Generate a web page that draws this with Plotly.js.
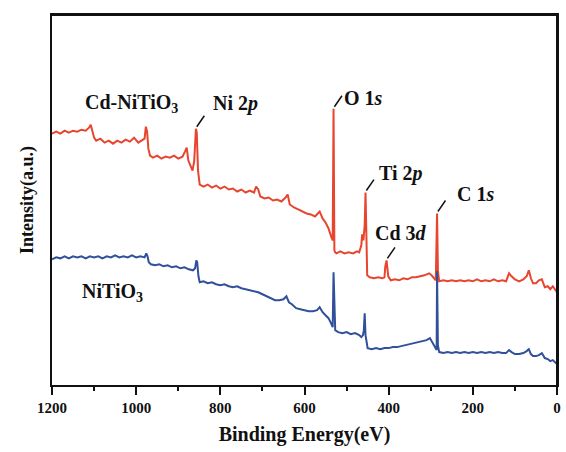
<!DOCTYPE html>
<html><head><meta charset="utf-8">
<script src="https://cdn.plot.ly/plotly-3.0.1.min.js"></script>
<style>body{margin:0;background:#fff}#chart{width:566px;height:452px}</style>
</head><body><div id="chart"></div>
<script>
// Binding energy (eV) and intensity (a.u.)
const cdE = [1200,1190,1180,1170,1160,1150,1140,1130,1120,1112,1108,1104,1100,1095,1085,1075,1065,1055,1045,1035,1025,1015,1005,995,985,980,977,974,971,967,960,950,940,930,920,910,900,890,884,880,876,870,866,862,858,856,853,849,840,830,820,810,800,790,780,770,760,750,740,730,720,715,710,705,695,685,675,665,655,645,640,635,625,615,605,595,585,575,564,557,550,543,536,533,531,529,527,524,515,505,495,485,475,470,465,463,460,457,455,453,451,445,435,425,415,410,408,405,403,401,395,385,375,365,355,345,335,325,315,304,298,292,288,285,283,280,270,260,250,240,230,220,210,200,190,180,170,160,150,140,130,121,114,108,100,90,80,72,67,62,57,50,43,36,29,22,16,10,5,0];
const cdI = [252,254,252,255,253,255,254,256,255,258,261,255,248,245,247,243,245,242,245,243,246,244,248,243,246,247,259,254,237,230,228,230,227,229,228,230,227,229,234,238,225,218,215,225,257,253,215,201,199,201,198,200,197,199,196,197,194,196,193,195,193,199,196,189,187,188,185,186,184,188,191,181,178,176,174,172,171,169,174,167,163,157,148,145,277,135,133,132,134,132,133,132,134,133,140,151,145,160,193,145,110,108,107,108,107,108,119,125,117,109,105,106,105,107,106,108,108,109,110,112,110,107,105,172,115,104,105,104,105,104,105,104,105,104,106,104,105,104,106,104,105,104,112,109,106,104,106,109,115,107,102,102,105,106,98,99,96,99,96,93];
const niE = [1200,1190,1180,1170,1160,1150,1140,1130,1120,1110,1100,1090,1080,1070,1060,1050,1040,1030,1020,1010,1000,990,980,976,973,970,965,955,945,935,925,915,905,895,885,875,865,860,857,855,852,849,840,830,820,810,800,790,780,770,760,750,740,730,720,710,700,690,680,670,660,650,643,637,630,620,610,600,590,580,570,564,557,550,543,536,533,531,529,527,520,510,500,490,480,470,465,461,459,457,455,452,450,440,430,420,410,400,390,380,370,360,350,340,330,320,310,302,296,290,286,285,283,280,270,260,250,240,230,220,210,200,190,180,170,160,150,140,130,121,114,108,100,90,80,72,67,62,57,50,43,36,29,22,16,10,5,0];
const niI = [126,128,127,129,127,129,128,129,127,129,128,129,127,129,128,130,128,129,128,130,128,129,128,132,129,123,121,120,121,119,120,118,119,117,118,116,115,117,125,123,109,103,104,102,103,101,100,101,99,98,99,97,96,95,94,93,91,89,87,85,85,86,89,83,81,77,76,75,74,74,75,78,73,70,67,61,58,113,63,55,53,52,53,51,52,50,48,50,55,72,50,40,37,36,37,36,37,37,38,38,39,40,41,42,43,44,45,47,42,37,35,114,40,33,32,33,32,33,32,33,32,33,32,33,32,33,32,33,32,32,35,33,31,31,32,34,36,31,29,29,30,32,27,26,24,25,23,21];
const seriesNames = ["Cd-NiTiO<sub>3</sub>", "NiTiO<sub>3</sub>"];
const peakNames = ["Ni 2<i>p</i>", "O 1<i>s</i>", "Ti 2<i>p</i>", "Cd 3<i>d</i>", "C 1<i>s</i>"];
const peakE = [858, 531, 455, 405, 285];
const xTicks = [1200,1000,800,600,400,200,0];
const xRange = [1200, 0], yRange = [0, 371];

const RED = '#E8452F', BLUE = '#30509A';
const F = 'Liberation Serif, Times New Roman, serif';

const traces = [
  {x: cdE, y: cdI, mode: 'lines', line: {color: RED, width: 2}, name: seriesNames[0], hoverinfo: 'skip'},
  {x: niE, y: niI, mode: 'lines', line: {color: BLUE, width: 2}, name: seriesNames[1], hoverinfo: 'skip'},
  // top and right edges of the plot frame, along the axis ranges
  {x: [xRange[0], xRange[1], xRange[1]], y: [yRange[1], yRange[1], yRange[0]], mode: 'lines', line: {color: '#111', width: 2}, cliponaxis: false, hoverinfo: 'skip', showlegend: false}
];

const labelOff = [[-94, 25], [-72, 11], [-84, 19], [-35, 27], [-92, 20]];
const annotations = [], shapes = [];
peakE.forEach((e, i) => {
  const v = cdI[cdE.indexOf(e)];
  annotations.push({x: e + labelOff[i][0], y: v + labelOff[i][1], xref: 'x', yref: 'y', text: '<b>' + peakNames[i] + '</b>', showarrow: false, font: {family: F, size: 20, color: '#111'}});
  shapes.push({type: 'line', xref: 'x', yref: 'y', x0: e - 2, y0: v + 2, x1: e - 20, y1: v + 13, line: {color: '#111', width: 1.5}});
});
annotations.push({x: 1010, y: 282, xref: 'x', yref: 'y', text: '<b>' + seriesNames[0] + '</b>', showarrow: false, font: {family: F, size: 20, color: '#111'}});
annotations.push({x: 1056, y: 93, xref: 'x', yref: 'y', text: '<b>' + seriesNames[1] + '</b>', showarrow: false, font: {family: F, size: 20, color: '#111'}});

const layout = {
  width: 566, height: 452,
  margin: {l: 52, r: 9, t: 15, b: 67},
  paper_bgcolor: '#fff', plot_bgcolor: '#fff',
  showlegend: false,
  font: {family: F, color: '#111'},
  xaxis: {
    range: xRange, tickvals: xTicks, ticktext: xTicks.map(t => '<b>' + t + '</b>'),
    ticks: 'outside', ticklen: 8, tickwidth: 2, tickcolor: '#111',
    minor: {dtick: 100, ticks: 'outside', ticklen: 4, tickwidth: 2, tickcolor: '#111'},
    showline: true, linewidth: 2, linecolor: '#111', mirror: true,
    showgrid: false, zeroline: false,
    tickfont: {family: F, size: 15, color: '#111'},
    title: {text: '<b>Binding Energy(eV)</b>', font: {family: F, size: 20, color: '#111'}, standoff: 12}
  },
  yaxis: {
    range: yRange, showticklabels: false, ticks: '',
    showline: true, linewidth: 2, linecolor: '#111', mirror: true,
    showgrid: false, zeroline: false,
    title: {text: '<b>Intensity(a.u.)</b>', font: {family: F, size: 18, color: '#111'}, standoff: 12}
  },
  annotations: annotations, shapes: shapes
};
Plotly.newPlot('chart', traces, layout, {displayModeBar: false, staticPlot: true});
</script></body></html>
